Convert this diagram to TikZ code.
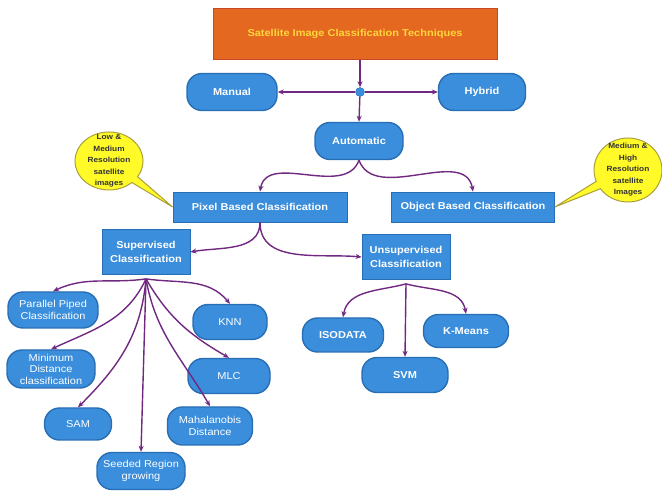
\documentclass[tikz,border=0pt]{standalone}
\usepackage{fontspec}
\newfontfamily\widesans{Liberation Sans}[FakeStretch=1.1]
\usetikzlibrary{arrows.meta,shapes.callouts}
\definecolor{titlefill}{RGB}{228,104,32}
\definecolor{titleline}{RGB}{196,72,40}
\definecolor{titletext}{RGB}{255,214,60}
\definecolor{boxblue}{RGB}{58,142,220}
\definecolor{boxline}{RGB}{40,110,180}
\definecolor{linkpurple}{RGB}{112,40,128}
\definecolor{noteyellow}{RGB}{255,250,40}
\definecolor{noteline}{RGB}{170,160,60}
\tikzset{
  sqbox/.style={rectangle,fill=boxblue,draw=boxline,line width=.8pt,text=white,align=center,inner sep=1pt,font=\widesans\bfseries\fontsize{10}{13.5}\selectfont},
  pill/.style={sqbox,rounded corners=15pt,line width=1.4pt},
  plainpill/.style={pill,font=\widesans\fontsize{10}{11.5}\selectfont},
  link/.style={draw=linkpurple,line width=1.4pt,-{Stealth[length=6pt,width=5pt]}},
  note/.style={ellipse callout,fill=noteyellow,draw=noteline,line width=1pt,align=center,text=black!80,font=\widesans\bfseries\fontsize{7.5}{11.5}\selectfont,inner xsep=-2pt,inner ysep=-10pt}
}
\begin{document}
\begin{tikzpicture}[x=1pt,y=-1pt]
\path[use as bounding box] (0,0) rectangle (662,494);
\node[rectangle,fill=titlefill,draw=titleline,line width=1pt,minimum width=284pt,minimum height=51pt,text=titletext,font=\widesans\bfseries\fontsize{10}{12}\selectfont] (title) at (355,34) {Satellite Image Classification Techniques};
\node[circle,fill=boxblue,draw=boxline,minimum size=9pt,inner sep=0pt] (hub) at (360,92) {};
\node[pill,minimum width=90pt,minimum height=37pt] (manual) at (232,92) {Manual};
\node[pill,minimum width=87pt,minimum height=37pt] (hybrid) at (482,92) {Hybrid};
\node[pill,minimum width=88pt,minimum height=37pt] (auto) at (359,141) {Automatic};
\node[sqbox,minimum width=174pt,minimum height=30pt] (pix) at (260,207) {Pixel Based Classification};
\node[sqbox,minimum width=163pt,minimum height=30pt] (obj) at (473,207) {Object Based Classification};
\node[note,callout absolute pointer={(pix.west)},minimum width=68pt,minimum height=58pt] (lownote) at (109,161) {Low \&\\Medium\\Resolution\\satellite\\images};
\node[note,callout absolute pointer={(obj.east)},minimum width=68pt,minimum height=64pt] (highnote) at (628,170) {Medium \&\\High\\Resolution\\satellite\\Images};
\node[sqbox,minimum width=88pt,minimum height=45pt] (sup) at (146,252) {Supervised\\Classification};
\node[sqbox,minimum width=88pt,minimum height=45pt] (unsup) at (406,257) {Unsupervised\\Classification};
\node[plainpill,minimum width=90pt,minimum height=36pt] (ppc) at (53,310) {Parallel Piped\\Classification};
\node[plainpill,minimum width=74pt,minimum height=35pt] (knn) at (230,322) {KNN};
\node[plainpill,minimum width=88pt,minimum height=38pt,inner xsep=0pt] (mdc) at (51,369) {Minimum\\Distance\\classification};
\node[plainpill,minimum width=82pt,minimum height=35pt] (mlc) at (229,376) {MLC};
\node[plainpill,minimum width=67pt,minimum height=32pt] (sam) at (78,424) {SAM};
\node[plainpill,minimum width=85pt,minimum height=38pt] (mahal) at (210,426) {Mahalanobis\\Distance};
\node[plainpill,minimum width=88pt,minimum height=37pt] (srg) at (141,471) {Seeded Region\\growing};
\node[pill,minimum width=81pt,minimum height=34pt] (iso) at (343,335) {ISODATA};
\node[pill,minimum width=86pt,minimum height=35pt] (svm) at (405,375) {SVM};
\node[pill,minimum width=85pt,minimum height=33pt] (kmeans) at (466,331) {K-Means};
\draw[link] (title.south -| hub) -- (hub);
\draw[link] (hub) -- (manual.east);
\draw[link] (hub) -- (hybrid.west);
\draw[link] (hub) -- (auto.north);
\draw[link] (auto.south) to[out=-110,in=80] (pix.north);
\draw[link] (auto.south) to[out=-70,in=100] (obj.north);
\draw[link] (pix.south) to[out=-90,in=10] (sup.east);
\draw[link] (pix.south) to[out=-90,in=175] (unsup.west);
\draw[link] ([yshift=-4pt]sup.south) to[out=188,in=25] (ppc.north);
\draw[link] ([yshift=-4pt]sup.south) to[out=-8,in=130] (knn.north);
\draw[link] ([yshift=-4pt]sup.south) to[out=-115,in=25] (mdc.north);
\draw[link] ([yshift=-4pt]sup.south) to[out=-60,in=150] (mlc.north);
\draw[link] ([yshift=-4pt]sup.south) to[out=-95,in=45] (sam.north);
\draw[link] ([yshift=-4pt]sup.south) to[out=-80,in=120] (mahal.north);
\draw[link] ([yshift=-4pt]sup.south) -- (srg.north);
\draw[link] ([yshift=-4pt]unsup.south) to[out=195,in=80] (iso.north);
\draw[link] ([yshift=-4pt]unsup.south) -- (svm.north);
\draw[link] ([yshift=-4pt]unsup.south) to[out=-15,in=100] (kmeans.north);
\end{tikzpicture}
\end{document}
